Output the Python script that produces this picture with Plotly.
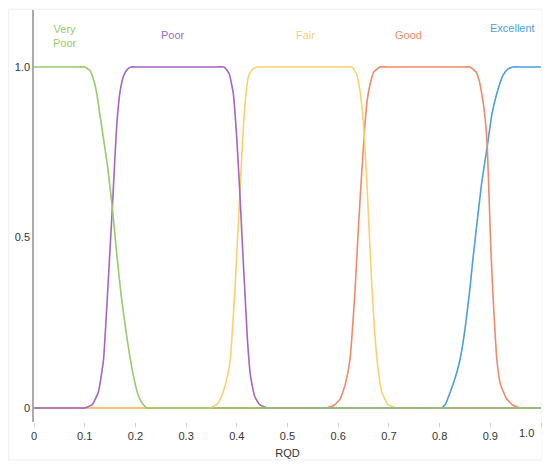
import plotly.graph_objects as go

# membership curves (RQD -> degree of membership)
very_poor_x = [0, 0.088, 0.100, 0.110, 0.118, 0.124, 0.133, 0.145, 0.155, 0.164,
               0.172, 0.180, 0.188, 0.196, 0.204, 0.212, 0.222, 0.235, 1.0]
very_poor_y = [1, 1, 1, 0.99, 0.96, 0.92, 0.83, 0.71, 0.58, 0.44,
               0.33, 0.24, 0.16, 0.095, 0.045, 0.017, 0, 0, 0]

poor_x = [0, 0.088, 0.100, 0.115, 0.127, 0.137, 0.146, 0.155, 0.163, 0.170, 0.177,
          0.184, 0.192, 0.205, 0.362, 0.375, 0.385, 0.393, 0.400, 0.406, 0.411,
          0.416, 0.421, 0.427, 0.435, 0.445, 0.460, 0.475, 1.0]
poor_y = [0, 0, 0, 0.01, 0.047, 0.14, 0.36, 0.60, 0.825, 0.93, 0.975,
          0.993, 1, 1, 1, 1, 0.98, 0.923, 0.79, 0.631, 0.48,
          0.339, 0.20, 0.094, 0.035, 0.01, 0, 0, 0]

fair_x = [0, 0.335, 0.347, 0.362, 0.373, 0.381, 0.387, 0.396, 0.401, 0.406, 0.413,
          0.418, 0.423, 0.430, 0.440, 0.452, 0.615, 0.627, 0.636, 0.643, 0.650,
          0.656, 0.661, 0.666, 0.672, 0.679, 0.686, 0.698, 0.715, 0.728, 1.0]
fair_y = [0, 0, 0, 0.012, 0.047, 0.09, 0.14, 0.339, 0.48, 0.631, 0.825,
          0.92, 0.972, 0.992, 1, 1, 1, 1, 0.98, 0.93, 0.83,
          0.68, 0.52, 0.37, 0.22, 0.11, 0.047, 0.01, 0, 0, 0]

good_x = [0, 0.565, 0.577, 0.592, 0.604, 0.614, 0.623, 0.633, 0.640, 0.646, 0.652,
          0.657, 0.663, 0.670, 0.682, 0.695, 0.848, 0.860, 0.872, 0.878, 0.883,
          0.889, 0.894, 0.898, 0.901, 0.905, 0.909, 0.913, 0.920, 0.932, 0.945,
          0.959, 0.972, 1.0]
good_y = [0, 0, 0, 0.008, 0.027, 0.07, 0.14, 0.339, 0.533, 0.68, 0.816,
          0.90, 0.95, 0.985, 1, 1, 1, 1, 0.985, 0.96, 0.923,
          0.86, 0.767, 0.60, 0.47, 0.34, 0.23, 0.14, 0.07, 0.027, 0.008,
          0, 0, 0]

excellent_x = [0, 0.792, 0.804, 0.812, 0.821, 0.830, 0.840, 0.850, 0.859, 0.866,
               0.873, 0.883, 0.894, 0.903, 0.913, 0.925, 0.934, 0.945, 0.958, 1.0]
excellent_y = [0, 0, 0, 0.012, 0.047, 0.085, 0.14, 0.23, 0.339, 0.44,
               0.533, 0.66, 0.767, 0.86, 0.923, 0.975, 0.993, 1, 1, 1]

x_ticks = [0, 0.1, 0.2, 0.3, 0.4, 0.5, 0.6, 0.7, 0.8, 0.9, 1.0]
x_tick_text = ["0", "0.1", "0.2", "0.3", "0.4", "0.5", "0.6", "0.7", "0.8", "0.9", ""]
last_tick_text = "1.0"
y_ticks = [0, 0.5, 1.0]
y_tick_text = ["0", "0.5", "1.0"]

# drawn back to front: Very Poor ends up on top
curves = [
    ("Excellent", excellent_x, excellent_y, "#4c9fe0", 0.943, 1.114),
    ("Good", good_x, good_y, "#f08a68", 0.738, 1.095),
    ("Fair", fair_x, fair_y, "#fcd16b", 0.536, 1.095),
    ("Poor", poor_x, poor_y, "#a466c2", 0.274, 1.095),
    ("Very<br>Poor", very_poor_x, very_poor_y, "#95cc6c", 0.061, 1.09),
]

fig = go.Figure()
for name, xs, ys, color, lx, ly in curves:
    fig.add_trace(go.Scatter(
        x=xs, y=ys, mode="lines", name=name,
        line=dict(color=color, width=1.6, shape="spline", smoothing=0.4),
        hoverinfo="skip",
    ))
    fig.add_annotation(
        x=lx, y=ly, text=name, showarrow=False,
        font=dict(color=color, size=11), xanchor="center", yanchor="middle",
    )

# last x label sits pulled in from the right edge, as in the original
fig.add_annotation(
    xref="paper", yref="paper", x=0.972, y=-0.027, text=last_tick_text,
    showarrow=False, xanchor="center", yanchor="middle",
    font=dict(size=11, color="#333"),
)

fig.add_shape(
    type="rect", xref="paper", yref="paper",
    x0=-0.050, x1=1.002, y0=-0.092, y1=1.002,
    line=dict(color="#eeeeee", width=1), layer="below",
)

# page body adds an 8px offset, so the figure is a bit smaller than the window
fig.update_layout(
    width=542, height=459,
    margin=dict(l=26, r=9, t=2, b=45),
    paper_bgcolor="white", plot_bgcolor="white",
    showlegend=False,
    font=dict(family="Liberation Sans, Arial, sans-serif", size=11, color="#333"),
    xaxis=dict(
        range=[0, 1.0], tickvals=x_ticks, ticktext=x_tick_text,
        showgrid=False, zeroline=False, showline=False, automargin=False,
        ticks="outside", ticklen=4, tickcolor="#cccccc",
        title=dict(text="RQD", standoff=8, font=dict(size=11)),
    ),
    yaxis=dict(
        range=[-0.041, 1.167], tickvals=y_ticks, ticktext=y_tick_text,
        showgrid=False, zeroline=False, showline=True, automargin=False,
        linecolor="#aaaaaa", linewidth=1.5, ticks="",
    ),
)

fig.write_html("out.html")
